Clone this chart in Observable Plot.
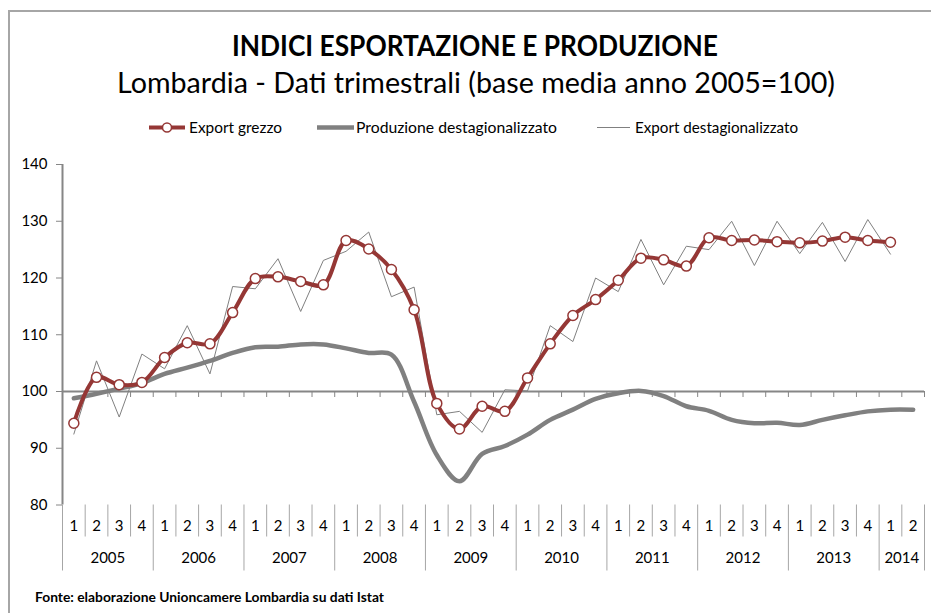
<!DOCTYPE html>
<html><head><meta charset="utf-8">
<script src="https://cdn.jsdelivr.net/npm/d3@7"></script>
<script src="https://cdn.jsdelivr.net/npm/@observablehq/plot@0.6"></script>
<style>
body{margin:0;background:#fff;}
#wrap{position:relative;width:931px;height:613px;overflow:hidden;background:#fff;font-family:Lato, sans-serif;}
#frame{position:absolute;left:8px;top:10px;width:980px;height:660px;border:2px solid #a6a6a6;box-sizing:border-box;pointer-events:none;}
#header,#plot,#caption{position:absolute;left:0;}
#header{top:0}
#plot{top:150px}
#caption{top:580px}
#plot text{fill:#000;}
</style></head><body>
<div id="wrap"><div id="header"></div><div id="plot"></div><div id="caption"></div><div id="frame"></div></div>
<script>
// ---- data ----
const years = ["2005","2006","2007","2008","2009","2010","2011","2012","2013","2014"];
const quarterLabels = ["1","2","3","4"];
const yTicks = [80, 90, 100, 110, 120, 130, 140];
const seriesNames = ["Export grezzo", "Produzione destagionalizzato", "Export destagionalizzato"];
const exportGrezzo = [
  94.4, 102.5, 101.2, 101.6,
  106.0, 108.6, 108.4, 113.9,
  119.9, 120.2, 119.4, 118.8,
  126.6, 125.1, 121.5, 114.4,
  97.9, 93.4, 97.4, 96.5,
  102.4, 108.4, 113.4, 116.2,
  119.6, 123.5, 123.2, 122.1,
  127.1, 126.6, 126.7, 126.4,
  126.2, 126.5, 127.2, 126.6,
  126.3
];
const produzione = [
  98.8, 99.6, 100.5, 101.5,
  103.1, 104.2, 105.4, 106.8,
  107.8, 107.9, 108.3, 108.3,
  107.6, 106.8, 106.5, 98.2,
  88.8, 84.2, 89.0, 90.4,
  92.4, 95.0, 96.8, 98.7,
  99.7, 100.1, 99.2, 97.4,
  96.6, 95.0, 94.4, 94.5,
  94.1, 95.0, 95.8, 96.5,
  96.8, 96.8
];
const exportDestag = [
  92.5, 105.4, 95.5, 106.6,
  104.0, 111.6, 103.1, 118.5,
  118.1, 123.4, 114.1, 123.1,
  124.7, 128.1, 116.7, 118.4,
  95.9, 96.5, 92.8, 100.3,
  100.1, 111.6, 108.8, 120.0,
  117.6, 126.8, 118.8, 125.6,
  125.0, 130.0, 122.2, 130.0,
  124.3, 129.8, 122.9, 130.3,
  124.2
];

// ---- derived tables ----
const n = produzione.length;
const rows = d3.range(n).map(i => ({
  i: i + 0.5,
  year: years[Math.floor(i / 4)],
  q: quarterLabels[i % 4],
  prod: produzione[i],
  grezzo: exportGrezzo[i],
  destag: exportDestag[i]
}));
const rowsE = rows.filter(d => d.grezzo != null);
const yearGroups = years.map((y, k) => {
  const start = k * 4, end = Math.min(n, start + 4);
  return {year: y, start, end, c: (start + end) / 2};
}).filter(g => g.end > g.start);
const allBounds = d3.range(n + 1);
const yearBounds = [...yearGroups.map(g => g.start), n];
const quarterBounds = allBounds.filter(b => !yearBounds.includes(b));

const RED = "#953735", GRAY = "#808080", AX = "#868686", SEP = "#a6a6a6";

const chart = Plot.plot({
  width: 931, height: 430,
  marginTop: 14, marginBottom: 75.5, marginLeft: 62, marginRight: 7,
  x: {domain: [0, n], axis: null},
  y: {domain: [80, 140], ticks: yTicks, tickSize: 6, tickPadding: 9, label: null, tickFormat: d => String(d)},
  style: {fontFamily: "Lato, sans-serif", fontSize: "15px", color: AX, background: "white", overflow: "visible"},
  marks: [
    Plot.ruleX([0], {stroke: AX, strokeWidth: 2}),
    Plot.ruleX(yearBounds, {x: d => d, y1: 80, y2: 80, insetBottom: -66, stroke: SEP}),
    Plot.ruleX(quarterBounds, {x: d => d, y1: 80, y2: 80, insetBottom: -32, stroke: SEP}),
    Plot.ruleY([100], {stroke: AX, strokeWidth: 2}),
    Plot.ruleX(allBounds.slice(1), {x: d => d, y1: 100, y2: 100, insetBottom: -6, stroke: AX}),
    Plot.text(rows, {x: "i", text: "q", frameAnchor: "bottom", dy: 25.5, fill: "black"}),
    Plot.text(yearGroups, {x: "c", text: "year", frameAnchor: "bottom", dy: 57.5, fill: "black"}),
    Plot.line(rows, {x: "i", y: "prod", stroke: GRAY, strokeWidth: 4.5, curve: "catmull-rom"}),
    Plot.line(rowsE, {x: "i", y: "destag", stroke: GRAY, strokeWidth: 1}),
    Plot.line(rowsE, {x: "i", y: "grezzo", stroke: RED, strokeWidth: 4, curve: "catmull-rom"}),
    Plot.dot(rowsE, {x: "i", y: "grezzo", r: 5, fill: "white", stroke: RED, strokeWidth: 1.5})
  ]
});
document.getElementById("plot").appendChild(chart);

// ---- header: title, subtitle, legend ----
const hdr = d3.select("#header").append("svg").attr("width", 931).attr("height", 150)
  .style("font-family", "Lato, sans-serif");
hdr.append("text").attr("x", 475).attr("y", 56).attr("text-anchor", "middle")
  .attr("font-weight", "bold").attr("font-size", 28)
  .attr("textLength", 486).attr("lengthAdjust", "spacingAndGlyphs")
  .text("INDICI ESPORTAZIONE E PRODUZIONE");
hdr.append("text").attr("x", 476).attr("y", 93).attr("text-anchor", "middle")
  .attr("font-size", 28)
  .attr("textLength", 718).attr("lengthAdjust", "spacingAndGlyphs")
  .text("Lombardia - Dati trimestrali (base media anno 2005=100)");

const legendLayout = [
  {x0: 149, x1: 185, tx: 189, tw: 93, stroke: RED, sw: 4, dot: true},
  {x0: 317, x1: 354, tx: 356, tw: 201, stroke: GRAY, sw: 4.5, dot: false},
  {x0: 597, x1: 630, tx: 635, tw: 163, stroke: GRAY, sw: 1, dot: false}
];
const ly = 127.5;
seriesNames.forEach((name, k) => {
  const L = legendLayout[k];
  hdr.append("line").attr("x1", L.x0).attr("x2", L.x1).attr("y1", ly).attr("y2", ly)
    .attr("stroke", L.stroke).attr("stroke-width", L.sw);
  if (L.dot) hdr.append("circle").attr("cx", (L.x0 + L.x1) / 2).attr("cy", ly).attr("r", 4.5)
    .attr("fill", "white").attr("stroke", L.stroke).attr("stroke-width", 1.5);
  hdr.append("text").attr("x", L.tx).attr("y", ly + 5.5).attr("font-size", 15)
    .attr("textLength", L.tw).attr("lengthAdjust", "spacingAndGlyphs").text(name);
});

// ---- caption ----
const cap = d3.select("#caption").append("svg").attr("width", 931).attr("height", 33)
  .style("font-family", "Lato, sans-serif");
cap.append("text").attr("x", 35).attr("y", 22).attr("font-size", 13).attr("font-weight", "bold")
  .attr("textLength", 349).attr("lengthAdjust", "spacingAndGlyphs")
  .text("Fonte: elaborazione Unioncamere Lombardia su dati Istat");
</script>
</body></html>
